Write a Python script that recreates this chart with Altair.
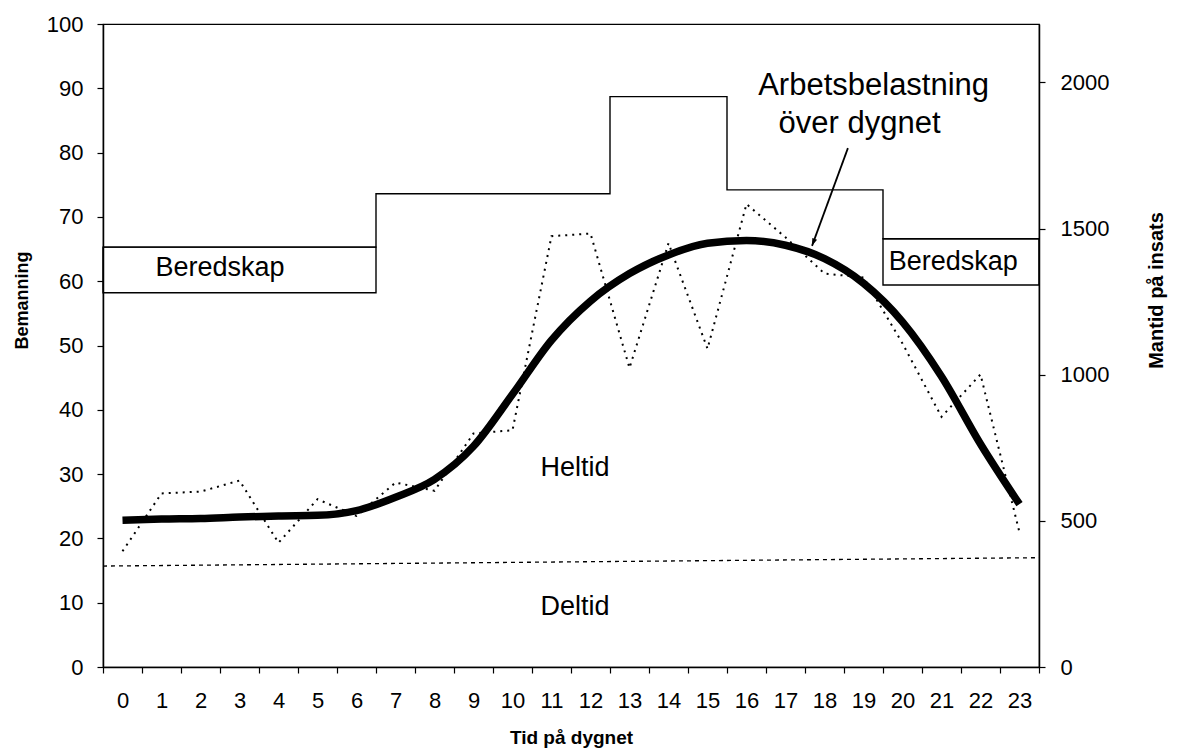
import altair as alt
import pandas as pd

# ---------------- data ----------------
hours = list(range(24))
# Mantid på insats (minutes) – observed, dotted line
actual_min = [396, 594, 600, 638, 425, 574, 517, 631, 603, 799, 810, 1474,
              1483, 1023, 1450, 1089, 1584, 1470, 1346, 1333, 1107, 856, 1001, 460]
# Arbetsbelastning över dygnet – smoothed, thick line
trend_min = [502, 506, 508, 513, 517, 519, 535, 581, 642, 755, 933, 1118,
             1252, 1346, 1410, 1450, 1459, 1443, 1397, 1313, 1181, 994, 763, 557]

# Bemanning (staffing) step function
step_x = [-0.5, 6.5, 12.5, 15.5, 19.5, 23.5]
staff = [65.3, 73.6, 88.7, 74.2, 66.6, 66.6]

# Beredskap boxes
bered_from = [-0.5, 19.5]
bered_to = [6.5, 23.5]
bered_low = [58.2, 59.4]
bered_high = [65.3, 66.6]

# Deltid level (line drawn from left to right edge)
deltid_x = [-0.5, 23.5]
deltid = [15.7, 17.0]

# annotation texts
ann_text = ["Beredskap", "Beredskap", "Heltid", "Deltid"]
ann_x = [2.5, 21.3, 11.6, 11.6]
ann_y = [62.0, 63.0, 30.9, 9.4]

big_text = ["Arbetsbelastning", "över dygnet"]
big_x = [19.26, 18.9]
big_y = [89.0, 83.1]

arrow_x = [18.6, 17.68]
arrow_y = [80.7, 65.5]

FONT = "Liberation Sans"
W, H = 936, 643

df_hours = pd.DataFrame({"x": hours, "actual": actual_min, "trend": trend_min})
df_step = pd.DataFrame({"x": step_x, "staff": staff})
df_bered = pd.DataFrame({"x": bered_from, "x2": bered_to, "lo": bered_low, "hi": bered_high})
df_deltid = pd.DataFrame({"x": deltid_x, "y": deltid})
df_ann = pd.DataFrame({"t": ann_text, "x": ann_x, "y": ann_y})
df_big = pd.DataFrame({"t": big_text, "x": big_x, "y": big_y})
df_arrow = pd.DataFrame({"x": arrow_x, "y": arrow_y, "o": [0, 1]})
df_tip = df_arrow.iloc[[1]]

x_scale = alt.Scale(domain=[-0.5, 23.5], nice=False, zero=False)
x_axis = alt.Axis(
    values=[h - 0.5 for h in range(25)],
    labelExpr="datum.value < 23 ? format(datum.value + 0.5, 'd') : ''",
    labelOffset=19.5,
    labelOverlap=False,
    labelFlush=False,
    labelBound=False,
    tickSize=6,
    labelPadding=17,
    labelFontSize=22,
    title="Tid på dygnet",
    titleFontSize=19,
    titleFontWeight="bold",
    titleY=70,
    titleBaseline="middle",
)
x_enc = alt.X("x:Q", scale=x_scale, axis=x_axis)

y_scale = alt.Scale(domain=[0, 100], nice=False, zero=True)
y_axis = alt.Axis(
    values=list(range(0, 101, 10)),
    tickSize=6,
    labelPadding=14,
    labelFontSize=22,
    title="Bemanning",
    titleFontSize=18,
    titleFontWeight="bold",
    titleX=-81,
    titleY=276,
    titleAngle=270,
    titleAlign="center",
    titleBaseline="middle",
)

steps = alt.Chart(df_step).mark_line(
    interpolate="step-after", color="black", strokeWidth=1.4
).encode(
    x=x_enc,
    y=alt.Y("staff:Q", scale=y_scale, axis=y_axis),
)

boxes = alt.Chart(df_bered).mark_rect(
    filled=False, stroke="black", strokeWidth=1.4
).encode(
    x=x_enc,
    x2="x2:Q",
    y=alt.Y("lo:Q", scale=y_scale),
    y2="hi:Q",
)

deltid_line = alt.Chart(df_deltid).mark_line(
    color="black", strokeWidth=1.3, strokeDash=[4, 4]
).encode(x=x_enc, y=alt.Y("y:Q", scale=y_scale))

ann = alt.Chart(df_ann).mark_text(
    font=FONT, fontSize=27, color="black", align="center", baseline="middle"
).encode(x=x_enc, y=alt.Y("y:Q", scale=y_scale), text="t:N")

big = alt.Chart(df_big).mark_text(
    font=FONT, fontSize=31, color="black", align="center", baseline="alphabetic"
).encode(x=x_enc, y=alt.Y("y:Q", scale=y_scale), text="t:N")

arrow = alt.Chart(df_arrow).mark_line(color="black", strokeWidth=1.8).encode(
    x=x_enc, y=alt.Y("y:Q", scale=y_scale), order="o:Q"
)
tip = alt.Chart(df_tip).mark_point(
    shape="M0,0L-0.45,1.3L0.45,1.3Z", filled=True, color="black",
    size=130, angle=201, opacity=1
).encode(x=x_enc, y=alt.Y("y:Q", scale=y_scale))

left = alt.layer(steps, boxes, deltid_line, ann, big, arrow, tip)

y2_scale = alt.Scale(domain=[0, 2200], nice=False, zero=True)
y2_axis = alt.Axis(
    orient="right",
    values=[0, 500, 1000, 1500, 2000],
    format="d",
    tickSize=6,
    labelPadding=15,
    labelFontSize=22,
    title="Mantid på insats",
    titleFontSize=20,
    titleFontWeight="bold",
    titleX=117,
    titleY=266,
    titleAngle=270,
    titleAlign="center",
    titleBaseline="middle",
)

dotted = alt.Chart(df_hours).mark_line(
    color="black", strokeWidth=2, strokeDash=[2, 5]
).encode(
    x=x_enc,
    y=alt.Y("actual:Q", scale=y2_scale, axis=y2_axis),
)
thick = alt.Chart(df_hours).mark_line(
    color="black", strokeWidth=7.5, interpolate="monotone", strokeCap="butt"
).encode(
    x=x_enc,
    y=alt.Y("trend:Q", scale=y2_scale),
)
right = alt.layer(dotted, thick)

chart = alt.layer(left, right).resolve_scale(y="independent").properties(
    width=W,
    height=H,
    autosize=alt.AutoSizeParams(type="none"),
    padding={"left": 95, "top": 16, "right": 130, "bottom": 81},
    background="white",
).configure_view(
    stroke="black", strokeWidth=1.2
).configure_axis(
    grid=False,
    domainColor="black",
    domainWidth=1.5,
    tickColor="black",
    tickWidth=1.2,
    labelColor="black",
    titleColor="black",
    labelFont=FONT,
    titleFont=FONT,
)

chart.save("out.html", embed_options={"renderer": "svg", "actions": False})
